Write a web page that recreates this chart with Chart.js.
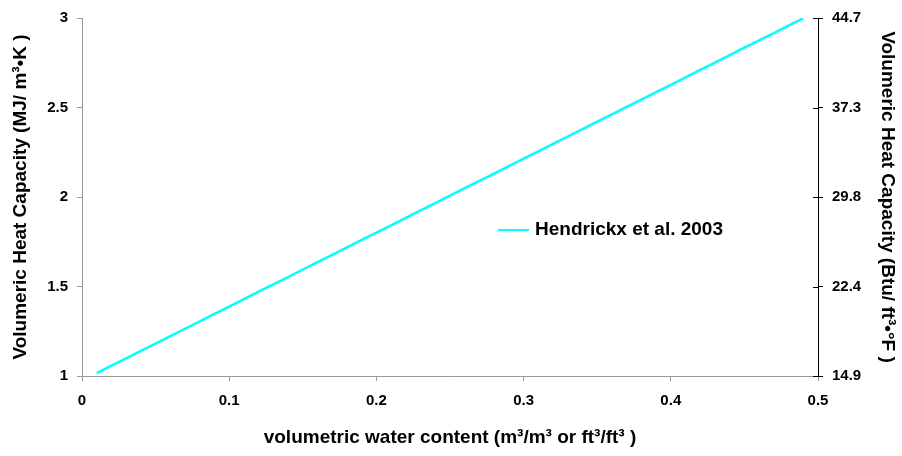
<!DOCTYPE html>
<html>
<head>
<meta charset="utf-8">
<script src="https://cdn.jsdelivr.net/npm/chart.js@4/dist/chart.umd.min.js"></script>
<style>
  html, body { margin: 0; padding: 0; background: #fff; }
  #wrap { width: 902px; height: 456px; }
</style>
</head>
<body>
<div id="wrap"><canvas id="chart" width="902" height="456"></canvas></div>
<script>
// volumetric water content (m3/m3)
const waterContent = [
    0.01, 0.02, 0.03, 0.04, 0.05, 0.06, 0.07, 0.08, 0.09, 0.10,
    0.11, 0.12, 0.13, 0.14, 0.15, 0.16, 0.17, 0.18, 0.19, 0.20,
    0.21, 0.22, 0.23, 0.24, 0.25, 0.26, 0.27, 0.28, 0.29, 0.30,
    0.31, 0.32, 0.33, 0.34, 0.35, 0.36, 0.37, 0.38, 0.39, 0.40,
    0.41, 0.42, 0.43, 0.44, 0.45, 0.46, 0.47, 0.48, 0.49
];
// Hendrickx et al. 2003 volumetric heat capacity (MJ/m3K)
const heatCapacity = [
    1.016, 1.058, 1.099, 1.140, 1.181, 1.223, 1.264, 1.305, 1.347, 1.388,
    1.429, 1.471, 1.512, 1.553, 1.595, 1.636, 1.677, 1.718, 1.760, 1.801,
    1.842, 1.884, 1.925, 1.966, 2.008, 2.049, 2.090, 2.131, 2.173, 2.214,
    2.255, 2.297, 2.338, 2.379, 2.421, 2.462, 2.503, 2.544, 2.586, 2.627,
    2.668, 2.710, 2.751, 2.792, 2.834, 2.875, 2.916, 2.957, 2.999
];
const leftTickLabels = ['1', '1.5', '2', '2.5', '3'];
const rightTickLabels = ['14.9', '22.4', '29.8', '37.3', '44.7'];
const seriesLabel = 'Hendrickx et al. 2003';

const fontFamily = '"Liberation Sans", Arial, sans-serif';
const tickFont = { family: fontFamily, size: 15, weight: 'bold' };
const titleFont = { family: fontFamily, size: 19, weight: 'bold' };

// inner half of the cross ticks on the right axis, and the in-plot legend
const extrasPlugin = {
    id: 'extras',
    afterDraw(chart) {
        const ctx = chart.ctx;
        const y2 = chart.scales.y2;
        ctx.save();
        ctx.strokeStyle = '#000';
        ctx.lineWidth = 1;
        for (let i = 0; i < y2.ticks.length; i++) {
            const py = Math.round(y2.getPixelForTick(i)) + 0.5;
            ctx.beginPath();
            ctx.moveTo(y2.left - 5, py);
            ctx.lineTo(y2.left, py);
            ctx.stroke();
        }
        // legend
        const lx = 498, ly = 230;
        ctx.strokeStyle = chart.data.datasets[0].borderColor;
        ctx.lineWidth = 2;
        ctx.beginPath();
        ctx.moveTo(lx, ly);
        ctx.lineTo(lx + 31, ly);
        ctx.stroke();
        ctx.fillStyle = '#000';
        ctx.font = 'bold 19px ' + fontFamily;
        ctx.textBaseline = 'middle';
        ctx.fillText(chart.data.datasets[0].label, lx + 37, ly);
        ctx.restore();
    }
};

let chart = document.getElementById('chart').getContext('2d');
let heatChart = new Chart(chart, {
    type: 'line',
    data: {
        datasets: [
            {
                label: seriesLabel,
                data: waterContent.map((x, i) => ({ x: x, y: heatCapacity[i] })),
                borderColor: '#00ffff',
                borderWidth: 2.5,
                pointRadius: 0,
                tension: 0,
                yAxisID: 'y'
            }
        ]
    },
    options: {
        responsive: false,
        devicePixelRatio: 1,
        animation: false,
        layout: { padding: { top: 15, right: 0, bottom: 0, left: 0 } },
        plugins: {
            legend: { display: false },
            tooltip: { enabled: false }
        },
        scales: {
            x: {
                type: 'linear',
                min: 0,
                max: 0.5,
                ticks: { stepSize: 0.1, color: '#000', font: tickFont, padding: 11, maxRotation: 0 },
                grid: { display: true, drawOnChartArea: false, drawTicks: true, tickLength: 5, color: '#999' },
                border: { display: true, color: '#999', width: 1 },
                title: {
                    display: true,
                    text: 'volumetric water content (m³/m³ or ft³/ft³ )',
                    color: '#000',
                    font: titleFont,
                    padding: { top: 0, bottom: 7 }
                },
                afterFit(scale) { scale.height = 80; }
            },
            y: {
                position: 'left',
                min: 1,
                max: 3,
                ticks: {
                    stepSize: 0.5,
                    color: '#000',
                    font: tickFont,
                    padding: 9,
                    callback: (value, index) => leftTickLabels[index]
                },
                grid: { display: true, drawOnChartArea: false, drawTicks: true, tickLength: 5, color: '#999' },
                border: { display: true, color: '#999', width: 1 },
                title: {
                    display: true,
                    text: 'Volumeric Heat Capacity (MJ/ m³•K )',
                    color: '#000',
                    font: titleFont,
                    padding: { top: 9, bottom: 0 }
                },
                afterFit(scale) { scale.width = 82; }
            },
            y2: {
                position: 'right',
                min: 1,
                max: 3,
                ticks: {
                    stepSize: 0.5,
                    color: '#000',
                    font: tickFont,
                    padding: 9,
                    callback: (value, index) => rightTickLabels[index]
                },
                grid: { display: true, drawOnChartArea: false, drawTicks: true, tickLength: 5, color: '#000' },
                border: { display: true, color: '#000', width: 1 },
                title: {
                    display: true,
                    text: 'Volumeric Heat Capacity (Btu/ ft³•°F )',
                    color: '#000',
                    font: titleFont,
                    padding: { top: 3, bottom: 0 }
                },
                afterFit(scale) { scale.width = 84; }
            }
        }
    },
    plugins: [extrasPlugin]
});
</script>
</body>
</html>
